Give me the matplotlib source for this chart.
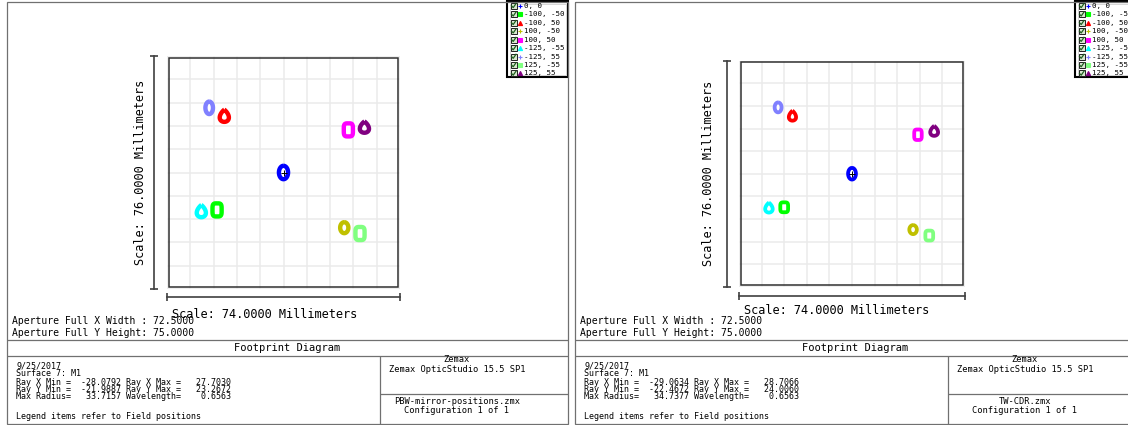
import matplotlib
matplotlib.use('Agg')
import matplotlib.pyplot as plt
import numpy as np
from matplotlib.patches import PathPatch, Rectangle
from matplotlib.path import Path

W, H = 1128, 425
MONO = 'DejaVu Sans Mono'

fields = ['0, 0', '-100, -50', '-100, 50', '100, -50', '100, 50',
          '-125, -55', '-125, 55', '125, -55', '125, 55']
field_colors = ['#0000ff', '#00ff00', '#ff0000', '#c0c000', '#ff00ff',
                '#00ffff', '#8080ff', '#80ff80', '#800080']
spot_shapes = ['oval', 'square', 'drop'] * 3
legend_markers = ['+', 's', '^'] * 3

# PBW-mirror-positions.zmx : beam footprint centres and sizes on M1 (mm)
pbw_x = [0.0, -21.1, -18.8, 19.3, 20.6, -26.1, -23.6, 24.3, 25.7]
pbw_y = [0.0, -12.2, 18.5, -18.0, 13.9, -12.6, 21.1, -19.9, 14.8]
pbw_w = [4.3, 4.3, 4.3, 4.0, 4.3, 4.3, 3.8, 4.3, 4.3]
pbw_h = [5.8, 5.7, 5.4, 5.0, 5.7, 5.4, 5.5, 5.7, 5.1]
pbw_stats = [-28.0792, 27.7030, -21.9887, 23.2672, 33.7157, 0.6563]

# TW-CDR.zmx
tw_x = [0.0, -22.2, -19.5, 20.0, 21.6, -27.2, -24.2, 25.3, 26.9]
tw_y = [0.0, -11.3, 19.5, -18.8, 13.1, -11.4, 22.3, -20.8, 14.4]
tw_w = [3.8, 3.8, 3.6, 3.7, 3.7, 3.7, 3.5, 3.8, 3.8]
tw_h = [5.2, 4.6, 4.6, 4.3, 4.8, 4.6, 4.6, 4.6, 4.6]
tw_stats = [-29.0634, 28.7066, -22.4672, 24.0060, 34.7377, 0.6563]

scale_x, scale_y = 74.0, 76.0
aperture_w, aperture_h = 72.5, 75.0
report_date = '9/25/2017'
surface = 'Surface 7: M1'

fig = plt.figure(figsize=(W / 100, H / 100), dpi=100)
bg = fig.add_axes([0, 0, 1, 1])
bg.set_xlim(0, W)
bg.set_ylim(H, 0)
bg.axis('off')


def px_axes(x0, y0, x1, y1):
    return fig.add_axes([x0 / W, 1 - y1 / H, (x1 - x0) / W, (y1 - y0) / H])


def spot_outline(kind, n=90):
    t = np.linspace(0, 2 * np.pi, n)
    if kind == 'oval':
        x, y = np.sin(t), np.cos(t)
    elif kind == 'square':
        x = np.sign(np.sin(t)) * np.abs(np.sin(t)) ** 0.5
        y = np.sign(np.cos(t)) * np.abs(np.cos(t)) ** 0.5
    else:
        # tear drop, pointed end up
        x = np.sin(t) * np.sin(t / 2) ** 0.8
        x = x / np.abs(x).max()
        y = np.cos(t)
    return 0.5 * x, 0.5 * y


def hline(y, x0, x1, **kw):
    bg.plot([x0, x1], [y, y], color='#707070', lw=0.9, solid_capstyle='butt', **kw)


def vline(x, y0, y1, **kw):
    bg.plot([x, x], [y0, y1], color='#707070', lw=0.9, solid_capstyle='butt', **kw)


def draw_panel(off, grid, xs, ys, ws, hs, ring_px, bar_x, bar_y, scale_y_px, stats, zmx):
    gx0, gy0, gx1, gy1 = grid
    ax = px_axes(off + gx0, gy0, off + gx1, gy1)
    ax.set_xlim(-scale_x / 2, scale_x / 2)
    ax.set_ylim(-scale_y / 2, scale_y / 2)
    ax.set_xticks(np.linspace(-scale_x / 2, scale_x / 2, 11))
    ax.set_yticks(np.linspace(-scale_y / 2, scale_y / 2, 11))
    ax.grid(True, color='#ebebeb', lw=1.1)
    ax.tick_params(length=0, labelbottom=False, labelleft=False)
    for s in ax.spines.values():
        s.set_visible(False)
    ax.set_facecolor('none')

    ax.add_patch(Rectangle((-aperture_w / 2, -aperture_h / 2), aperture_w, aperture_h,
                           fc='none', ec='#303030', lw=1.1, zorder=3))

    ppm_x = (gx1 - gx0) / scale_x
    ppm_y = (gy1 - gy0) / scale_y
    for cx, cy, w, h, kind, c in zip(xs, ys, ws, hs, spot_shapes, field_colors):
        ux, uy = spot_outline(kind)
        wc = w - ring_px / ppm_x
        hc = h - ring_px / ppm_y
        verts = np.column_stack([cx + wc * ux, cy + hc * uy])
        ax.add_patch(PathPatch(Path(verts), fc='white', ec=c, lw=ring_px * 0.72,
                               joinstyle='round', zorder=4))
    ax.plot(xs[0], ys[0], marker='+', color='k', ms=4.5, mew=0.7, zorder=5)

    # scale bars
    bar_kw = dict(color='#404040', lw=1.2, clip_on=False)
    ax.plot([-scale_x / 2, scale_x / 2], [bar_y, bar_y], **bar_kw)
    ax.plot([-scale_x / 2, scale_x / 2], [bar_y, bar_y], ls='none', marker='|',
            ms=6, mew=1.2, color='#404040', clip_on=False)
    ax.plot([bar_x, bar_x], [-scale_y / 2, scale_y / 2], **bar_kw)
    ax.plot([bar_x, bar_x], [-scale_y / 2, scale_y / 2], ls='none', marker='_',
            ms=6, mew=1.2, color='#404040', clip_on=False)

    bg.text(off + gx0 + 5, scale_y_px, f'Scale: {scale_x:.4f} Millimeters', fontsize=8.6,
            family=MONO, va='center', ha='left')
    bg.text(off + 141, (gy0 + gy1) / 2, f'Scale: {scale_y:.4f} Millimeters', fontsize=8.6,
            family=MONO, va='center', ha='center', rotation=90)

    # legend
    lx0, lx1 = off + 507, off + 568
    bg.add_patch(Rectangle((lx0, 1), lx1 - lx0, 76, fc='white', ec='black', lw=1.5))
    bg.add_patch(Rectangle((lx0 + 2.5, 3.5), lx1 - lx0 - 5, 71, fc='none', ec='#c8c8c8', lw=0.5))
    for i, (lab, c, m) in enumerate(zip(fields, field_colors, legend_markers)):
        yy = 5.8 + 8.45 * i
        bg.add_patch(Rectangle((off + 510.5, yy - 3), 6, 6, fc='#d8e8d0', ec='#202020', lw=0.7))
        bg.plot([off + 511.5, off + 513.2, off + 516], [yy, yy + 1.8, yy - 2.2],
                color='#206020', lw=0.9)
        bg.plot(off + 520, yy, marker=m, color=c, ms=3.0, mew=0.8)
        bg.text(off + 524, yy, lab, fontsize=5.4, family=MONO, va='center', ha='left')

    # report frame
    left, right = off + 7, off + 567.5
    bg.add_patch(Rectangle((left, 2), right - left, 422, fc='none', ec='#707070', lw=0.9))
    hline(340, left, right)
    hline(355.5, left, right)
    split = off + 380
    vline(split, 355.5, 424)
    hline(394, split, right)

    bg.text(off + 11.5, 321, f'Aperture Full X Width : {aperture_w:.4f}', fontsize=7,
            family=MONO, va='center')
    bg.text(off + 11.5, 332.5, f'Aperture Full Y Height: {aperture_h:.4f}', fontsize=7,
            family=MONO, va='center')
    bg.text((left + right) / 2, 348, 'Footprint Diagram', fontsize=7.5, family=MONO,
            va='center', ha='center')

    xmin, xmax, ymin, ymax, rmax, wave = stats
    info = [report_date, surface,
            f'Ray X Min = {xmin:9.4f} Ray X Max = {xmax:9.4f}',
            f'Ray Y Min = {ymin:9.4f} Ray Y Max = {ymax:9.4f}',
            f'Max Radius= {rmax:9.4f} Wavelength= {wave:9.4f}']
    for yy, line in zip([366, 373.5, 382.5, 389.5, 396.5], info):
        bg.text(off + 16.5, yy, line, fontsize=6, family=MONO, va='center')
    bg.text(off + 16.5, 416.5, 'Legend items refer to Field positions', fontsize=6,
            family=MONO, va='center')

    cx = off + 457
    bg.text(cx, 360, 'Zemax', fontsize=6.3, family=MONO, va='center', ha='center')
    bg.text(cx, 369, 'Zemax OpticStudio 15.5 SP1', fontsize=6.3, family=MONO,
            va='center', ha='center')
    bg.text(cx, 401.5, zmx, fontsize=6.3, family=MONO, va='center', ha='center')
    bg.text(cx, 410.5, 'Configuration 1 of 1', fontsize=6.3, family=MONO,
            va='center', ha='center')


draw_panel(0, (167, 56, 400, 289), pbw_x, pbw_y, pbw_w, pbw_h, 4.4,
           -41.1, -40.6, 315, pbw_stats, 'PBW-mirror-positions.zmx')
draw_panel(568, (171, 60.7, 397, 286.7), tw_x, tw_y, tw_w, tw_h, 3.8,
           -40.9, -41.1, 310, tw_stats, 'TW-CDR.zmx')

fig.savefig('out.png', dpi=100)
